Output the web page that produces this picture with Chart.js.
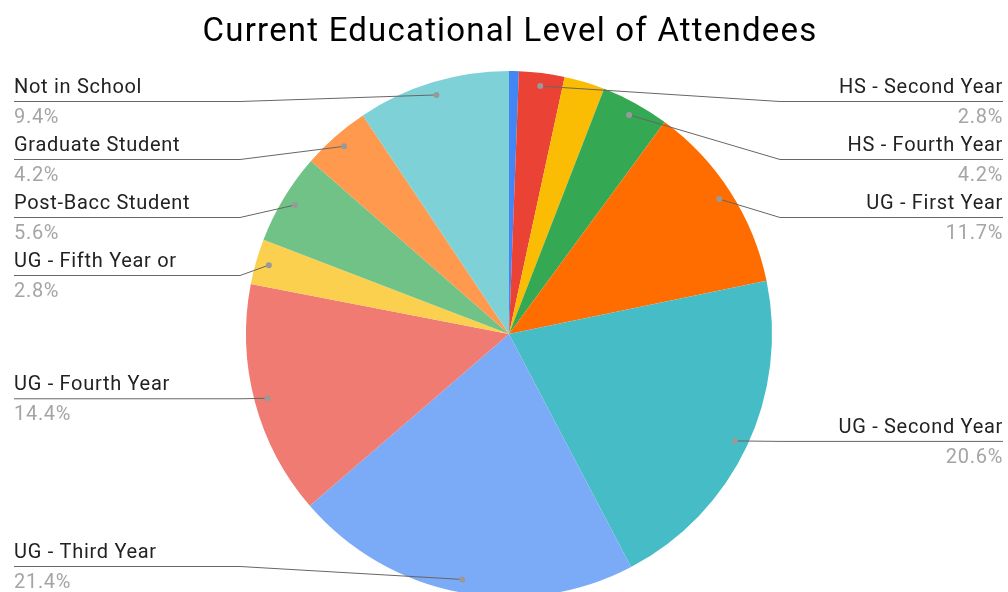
<!DOCTYPE html>
<html>
<head>
<meta charset="utf-8">
<script src="https://cdn.jsdelivr.net/npm/chart.js@4/dist/chart.umd.min.js"></script>
<style>
  html, body { margin: 0; padding: 0; background: #fff; overflow: hidden; }
  #wrap { width: 1008px; height: 592px; overflow: hidden; }
</style>
</head>
<body>
<div id="wrap"><canvas id="pie" width="1008" height="600"></canvas></div>
<script>
// data
const labels = ['HS - First Year', 'HS - Second Year', 'HS - Third Year', 'HS - Fourth Year',
  'UG - First Year', 'UG - Second Year', 'UG - Third Year', 'UG - Fourth Year',
  'UG - Fifth Year or', 'Post-Bacc Student', 'Graduate Student', 'Not in School'];
const percents = [0.6, 2.8, 2.5, 4.2, 11.7, 20.6, 21.4, 14.4, 2.8, 5.6, 4.2, 9.4];
const colors = ['#4285F4', '#EA4335', '#FBBC04', '#34A853', '#FF6D01', '#46BDC6',
  '#7BAAF7', '#F07B72', '#FCD04F', '#71C287', '#FF994D', '#7ED1D7'];
const unlabeled = ['HS - First Year', 'HS - Third Year'];
const title = 'Current Educational Level of Attendees';

// google-style side labels with leader lines
const sideLabels = {
  id: 'sideLabels',
  afterDraw(chart) {
    const ctx = chart.ctx;
    const arcs = chart.getDatasetMeta(0).data;
    const W = chart.width;
    const gap = 58, minY = 101, maxY = 566;
    const left = [], right = [];
    arcs.forEach((a, i) => {
      if (unlabeled.includes(labels[i])) return;
      const mid = (a.startAngle + a.endAngle) / 2;
      const r = a.outerRadius * 0.95;
      const p = { i, x: a.x + Math.cos(mid) * r, y: a.y + Math.sin(mid) * r };
      (p.x < a.x ? left : right).push(p);
    });
    [left, right].forEach(side => {
      side.sort((a, b) => a.y - b.y);
      let prev = -Infinity;
      side.forEach(p => { p.ly = Math.max(p.y, prev + gap, minY); prev = p.ly; });
      let next = Infinity;
      for (let k = side.length - 1; k >= 0; k--) {
        side[k].ly = Math.min(side[k].ly, next - gap, maxY);
        next = side[k].ly;
      }
    });

    ctx.save();
    // title
    ctx.fillStyle = '#000';
    ctx.font = '33px Roboto';
    ctx.letterSpacing = '1.2px';
    ctx.textAlign = 'center';
    ctx.textBaseline = 'alphabetic';
    ctx.fillText(title, 510, 41);

    ctx.letterSpacing = '0.7px';
    const draw = (p, isLeft) => {
      const x0 = isLeft ? 14 : W - 5;
      const bend = isLeft ? 240 : 780;
      ctx.strokeStyle = '#666';
      ctx.lineWidth = 1;
      ctx.beginPath();
      ctx.moveTo(x0, p.ly + 0.5);
      if (isLeft ? p.x > bend : p.x < bend) ctx.lineTo(bend, p.ly + 0.5);
      ctx.lineTo(p.x, p.y);
      ctx.stroke();
      ctx.fillStyle = '#999';
      ctx.beginPath();
      ctx.arc(p.x, p.y, 3, 0, Math.PI * 2);
      ctx.fill();
      ctx.textAlign = isLeft ? 'left' : 'right';
      ctx.font = '20px Roboto';
      ctx.fillStyle = '#222';
      ctx.fillText(labels[p.i], x0, p.ly - 8);
      ctx.fillStyle = '#a5a5a5';
      ctx.fillText(percents[p.i].toFixed(1) + '%', x0, p.ly + 22);
    };
    left.forEach(p => draw(p, true));
    right.forEach(p => draw(p, false));
    ctx.restore();
  }
};

new Chart(document.getElementById('pie'), {
  type: 'pie',
  data: {
    labels: labels,
    datasets: [{
      data: percents,
      backgroundColor: colors,
      borderWidth: 0
    }]
  },
  options: {
    responsive: false,
    animation: false,
    layout: { padding: { top: 71, bottom: 3, left: 10, right: 0 } },
    plugins: {
      legend: { display: false },
      tooltip: { enabled: false },
      title: { display: false }
    }
  },
  plugins: [sideLabels]
});
</script>
</body>
</html>
